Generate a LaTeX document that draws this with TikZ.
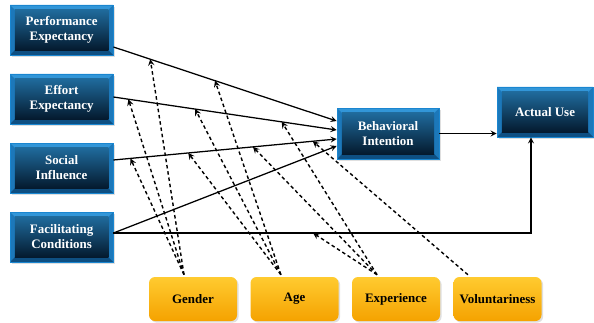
\documentclass[tikz,border=0pt]{standalone}
\usepackage{fontspec}
\setmainfont{Liberation Serif}
\usetikzlibrary{shadows}

\definecolor{bevtop}{HTML}{3296D8}
\definecolor{bevside}{HTML}{1C78BA}
\definecolor{bevbot}{HTML}{0E4F82}
\definecolor{bevline}{HTML}{1A86D0}
\definecolor{facetop}{HTML}{1F6A9C}
\definecolor{facebot}{HTML}{041A2E}
\definecolor{modtop}{HTML}{FFCB30}
\definecolor{modbot}{HTML}{F5A200}
\newcommand{\bevw}{0.12cm}

\tikzset{
  cons/.style={draw=bevline, line width=0.5pt, fill=bevside,
    minimum width=2.575cm, minimum height=1.25cm, align=center,
    text=white, font=\bfseries\fontsize{9.2}{10.7}\selectfont,
    drop shadow={opacity=0.25, shadow xshift=0.04cm, shadow yshift=-0.04cm},
    path picture={
      \fill[bevtop] (path picture bounding box.north west) -- (path picture bounding box.north east)
        -- ([shift={(-\bevw,-\bevw)}]path picture bounding box.north east)
        -- ([shift={(\bevw,-\bevw)}]path picture bounding box.north west) -- cycle;
      \fill[bevbot] (path picture bounding box.south west) -- (path picture bounding box.south east)
        -- ([shift={(-\bevw,\bevw)}]path picture bounding box.south east)
        -- ([shift={(\bevw,\bevw)}]path picture bounding box.south west) -- cycle;
      \shade[top color=facetop, bottom color=facebot]
        ([shift={(\bevw,-\bevw)}]path picture bounding box.north west)
        rectangle ([shift={(-\bevw,\bevw)}]path picture bounding box.south east);
    }},
  modr/.style={rounded corners=0.15cm, top color=modtop, bottom color=modbot,
    minimum width=2.2cm, minimum height=1.1cm,
    font=\bfseries\fontsize{9.2}{10.7}\selectfont,
    drop shadow={opacity=0.25, shadow xshift=0.04cm, shadow yshift=-0.04cm}},
  link/.style={-stealth, line width=0.9pt},
  modarrow/.style={-stealth, line width=1pt, dash pattern=on 2.5pt off 2pt},
}

\begin{document}
\begin{tikzpicture}
  \useasboundingbox (0,0) rectangle (14.85,8.05);
  % constructs
  \node[cons] (pe) at (1.54,7.30) {Performance\\Expectancy};
  \node[cons] (ee) at (1.54,5.575) {Effort\\Expectancy};
  \node[cons] (si) at (1.54,3.85) {Social\\Influence};
  \node[cons] (fc) at (1.54,2.125) {Facilitating\\Conditions};
  \node[cons, minimum width=2.55cm, minimum height=1.275cm] (bi) at (9.7,4.7125) {Behavioral\\Intention};
  \node[cons, minimum width=2.4cm] (au) at (13.625,5.25) {Actual Use};
  % moderators
  \node[modr] (gen) at (4.825,0.575) {Gender};
  \node[modr] (age) at (7.3625,0.575) {Age};
  \node[modr] (exp) at (9.9,0.575) {Experience};
  \node[modr] (vol) at (12.4375,0.575) {Voluntariness};
  % solid paths
  \draw[link] ([yshift=-0.425cm]pe.east) -- coordinate[pos=0.165] (pe1) coordinate[pos=0.455] (pe2) ([yshift=0.3125cm]bi.west);
  \draw[link] ([yshift=0.05cm]ee.east) -- coordinate[pos=0.067] (ee1) coordinate[pos=0.366] (ee2) coordinate[pos=0.754] (ee3) ([yshift=0.0875cm]bi.west);
  \draw[link] ([yshift=0.2cm]si.east) -- coordinate[pos=0.076] (si1) coordinate[pos=0.335] (si2) coordinate[pos=0.625] (si3) coordinate[pos=0.893] (si4) ([yshift=-0.1375cm]bi.west);
  \draw[link] ([yshift=0.1cm]fc.east) -- ([yshift=-0.3125cm]bi.west);
  \draw[link] ([yshift=0.1cm]fc.east) -| coordinate[pos=0.239] (fa1) ([xshift=-0.35cm]au.south);
  \draw[link] (bi.east) -- (bi.east -| au.west);
  % moderating effects
  \coordinate (genT) at ([xshift=-0.225cm,yshift=0.05cm]gen.north);
  \coordinate (ageT) at ([xshift=-0.34cm,yshift=0.05cm]age.north);
  \coordinate (expT) at ([xshift=-0.475cm,yshift=0.05cm]exp.north);
  \coordinate (volT) at ([xshift=-0.74cm,yshift=0.05cm]vol.north);
  \draw[modarrow] (genT) -- (pe1);
  \draw[modarrow] (genT) -- (ee1);
  \draw[modarrow] (genT) -- (si1);
  \draw[modarrow] (ageT) -- (pe2);
  \draw[modarrow] (ageT) -- (ee2);
  \draw[modarrow] (ageT) -- (si2);
  \draw[modarrow] (expT) -- (ee3);
  \draw[modarrow] (expT) -- (si3);
  \draw[modarrow] (expT) -- (fa1);
  \draw[modarrow] (volT) -- (si4);
\end{tikzpicture}
\end{document}
